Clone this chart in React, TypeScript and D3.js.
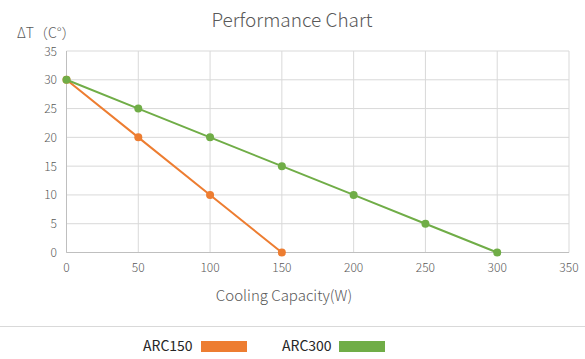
import React from "react";
import * as d3 from "d3";

const xTicks = [0, 50, 100, 150, 200, 250, 300, 350];
const yTicks = [0, 5, 10, 15, 20, 25, 30, 35];
const arc150X = [0, 50, 100, 150];
const arc150Y = [30, 20, 10, 0];
const arc300X = [0, 50, 100, 150, 200, 250, 300];
const arc300Y = [30, 25, 20, 15, 10, 5, 0];
const seriesNames = ["ARC150", "ARC300"];
const colors = ["#ED7D31", "#70AD47"];

export default function App() {
  const W = 585, H = 359;
  const x = d3.scaleLinear().domain([0, 350]).range([66.5, 569]);
  const y = d3.scaleLinear().domain([0, 35]).range([252.5, 51]);
  const line = d3.line<[number, number]>().x(d => x(d[0])).y(d => y(d[1]));
  const series = [
    arc150X.map((v, i) => [v, arc150Y[i]] as [number, number]),
    arc300X.map((v, i) => [v, arc300Y[i]] as [number, number]),
  ];
  const font = "'Noto Sans CJK SC', 'Noto Sans', sans-serif";
  return (
    <svg width={W} height={H} style={{ position: "absolute", left: 0, top: 0 }} fontFamily={font}>
      <rect width={W} height={H} fill="#fff" />
      <text x={292} y={27} textAnchor="middle" fontSize={19} fontWeight={300} fill="#595959">Performance Chart</text>
      <text x={17} y={38} fontSize={14} fontWeight={300} fill="#595959">ΔT（C°）</text>
      {xTicks.map(t => (
        <line key={"gx" + t} x1={x(t)} x2={x(t)} y1={y(35)} y2={y(0)} stroke="#d9d9d9" />
      ))}
      {yTicks.map(t => (
        <line key={"gy" + t} x1={x(0)} x2={x(350)} y1={y(t)} y2={y(t)} stroke="#d9d9d9" />
      ))}
      <line x1={x(0)} x2={x(350)} y1={y(0)} y2={y(0)} stroke="#bfbfbf" />
      <line x1={x(0)} x2={x(0)} y1={y(35)} y2={y(0)} stroke="#bfbfbf" />
      {yTicks.map(t => (
        <text key={"ty" + t} x={57} y={y(t) + 4.5} textAnchor="end" fontSize={12} fontWeight={300} fill="#595959">{t}</text>
      ))}
      {xTicks.map(t => (
        <text key={"tx" + t} x={x(t)} y={272} textAnchor="middle" fontSize={12} fontWeight={300} fill="#595959">{t}</text>
      ))}
      <text x={284} y={301} textAnchor="middle" fontSize={15} fontWeight={300} fill="#595959">Cooling Capacity(W)</text>
      {series.map((s, i) => (
        <g key={"s" + i}>
          <path d={line(s) || ""} fill="none" stroke={colors[i]} strokeWidth={2} />
          {s.map((p, j) => (
            <circle key={j} cx={x(p[0])} cy={y(p[1])} r={4} fill={colors[i]} />
          ))}
        </g>
      ))}
      <line x1={0} x2={W} y1={326.5} y2={326.5} stroke="#d9d9d9" />
      {seriesNames.map((n, i) => {
        const tx = [143, 282][i];
        const sx = [201, 339][i];
        return (
          <g key={n}>
            <text x={tx} y={351} fontSize={14} fill="#262626">{n}</text>
            <rect x={sx} y={341} width={46} height={11} fill={colors[i]} />
          </g>
        );
      })}
    </svg>
  );
}
